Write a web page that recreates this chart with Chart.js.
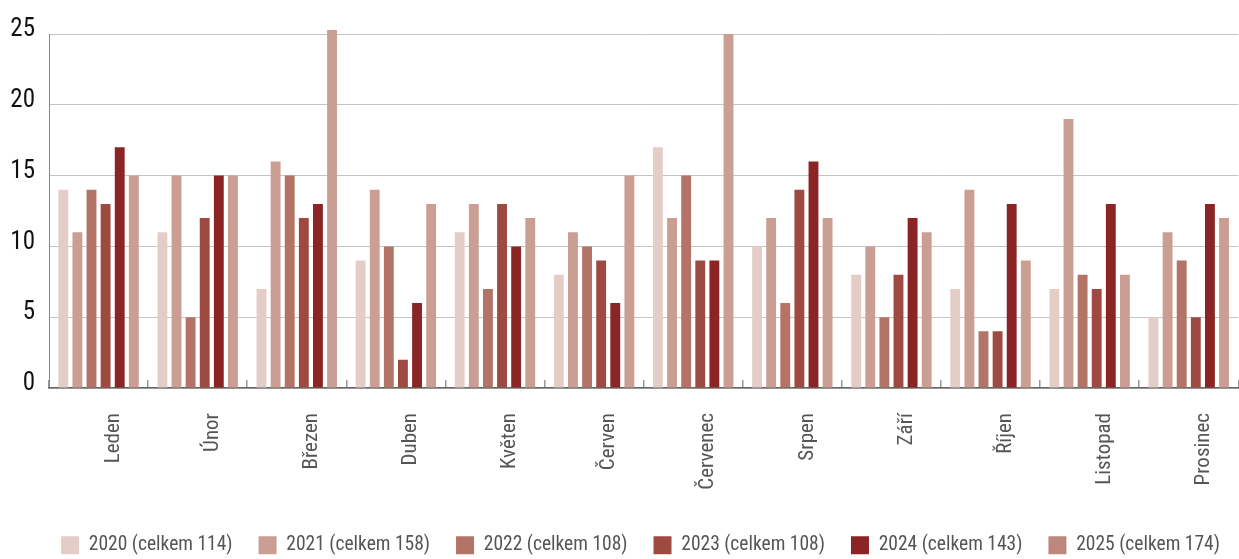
<!DOCTYPE html>
<html lang="cs">
<head>
<meta charset="utf-8">
<title>Počet po měsících 2020–2025</title>
<script src="https://cdn.jsdelivr.net/npm/chart.js@4.4.0/dist/chart.umd.min.js"></script>
<style>
  html, body { margin: 0; padding: 0; background: #fff; overflow: hidden; }
</style>
</head>
<body>
<canvas id="graf" width="1247" height="559"></canvas>
<script>
const mesice = ["Leden", "Únor", "Březen", "Duben", "Květen", "Červen",
    "Červenec", "Srpen", "Září", "Říjen", "Listopad", "Prosinec"];

const roky = ["2020 (celkem 114)", "2021 (celkem 158)", "2022 (celkem 108)",
    "2023 (celkem 108)", "2024 (celkem 143)", "2025 (celkem 174)"];

const hodnoty2020 = [14, 11, 7, 9, 11, 8, 17, 10, 8, 7, 7, 5];
const hodnoty2021 = [11, 15, 16, 14, 13, 11, 12, 12, 10, 14, 19, 11];
const hodnoty2022 = [14, 5, 15, 10, 7, 10, 15, 6, 5, 4, 8, 9];
const hodnoty2023 = [13, 12, 12, 2, 13, 9, 9, 14, 8, 4, 7, 5];
const hodnoty2024 = [17, 15, 13, 6, 10, 6, 9, 16, 12, 13, 13, 13];
const hodnoty2025 = [15, 15, 27, 13, 12, 15, 25, 12, 11, 9, 8, 12];

const osaY = [0, 5, 10, 15, 20, 25];

const barvy = ["#e5cdc7", "#cb9e94", "#b37366", "#9e4a40", "#8b2525", "#cb9e94"];
const barvyLegenda = ["#e5cdc7", "#cb9e94", "#b37366", "#9e4a40", "#8b2525", "#be877c"];

const pismo = "'Roboto Condensed', 'Liberation Sans Narrow', 'DejaVu Sans Condensed', 'Arial Narrow', sans-serif";

Chart.defaults.font.family = pismo;

function popiskyLegendy(chart) {

    const polozky = Chart.defaults.plugins.legend.labels.generateLabels(chart);

    polozky.forEach((p, i) => {
        p.fillStyle = barvyLegenda[i];
        p.strokeStyle = barvyLegenda[i];
        p.lineWidth = 0;
    });

    return polozky;
}

// legenda je v originale trochu posunuta doprava
const posunLegendy = {
    id: "posunLegendy",
    afterLayout(chart) {
        chart.legend.left += 35;
    }
};

function renderGraf() {

    const data = [hodnoty2020, hodnoty2021, hodnoty2022, hodnoty2023, hodnoty2024, hodnoty2025];

    const datasets = data.map((hodnoty, i) => ({
        label: roky[i],
        data: hodnoty,
        backgroundColor: barvy[i],
        borderWidth: 0,
        clip: { left: 0, top: 4, right: 0, bottom: 0 }
    }));

    new Chart(document.getElementById("graf"), {
        type: "bar",
        data: {
            labels: mesice,
            datasets: datasets
        },
        plugins: [posunLegendy],
        options: {
            responsive: false,
            animation: false,
            layout: { padding: { top: 34, right: 1, bottom: -6, left: 0 } },
            datasets: {
                bar: { categoryPercentage: 0.854, barPercentage: 0.7 }
            },
            scales: {
                x: {
                    grid: {
                        offset: true,
                        drawOnChartArea: false,
                        tickLength: -8,
                        color: "#999",
                        lineWidth: 1.5
                    },
                    border: { color: "#666", width: 1.5 },
                    ticks: {
                        color: "#555",
                        font: { size: 21 },
                        minRotation: 90,
                        maxRotation: 90,
                        autoSkip: false,
                        padding: 33,
                        labelOffset: 15
                    },
                    afterFit: s => { s.height = 121.5; }
                },
                y: {
                    min: osaY[0],
                    max: osaY[osaY.length - 1],
                    afterBuildTicks: s => { s.ticks = osaY.map(v => ({ value: v })); },
                    ticks: {
                        color: "#111",
                        font: { size: 25 },
                        padding: 14,
                        labelOffset: -4
                    },
                    grid: { color: "#c4c4c4", lineWidth: 1, drawTicks: false },
                    border: { color: "#888", width: 1 },
                    afterFit: s => { s.width = 49; }
                }
            },
            plugins: {
                legend: {
                    position: "bottom",
                    labels: {
                        boxWidth: 18,
                        boxHeight: 18,
                        padding: 26,
                        color: "#555",
                        font: { size: 19.5 },
                        generateLabels: popiskyLegendy
                    }
                },
                tooltip: { enabled: false }
            }
        }
    });
}

renderGraf();
</script>
</body>
</html>
